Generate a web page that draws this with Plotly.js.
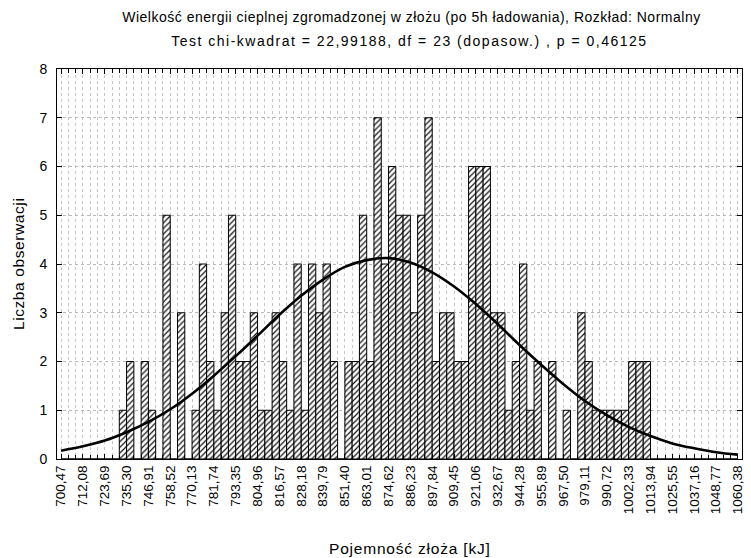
<!DOCTYPE html>
<html><head><meta charset="utf-8">
<script src="https://cdn.plot.ly/plotly-3.0.1.min.js"></script>
<style>
html,body{margin:0;padding:0;background:#fff;}
.annotation[data-index="0"] text{letter-spacing:0.5px;}
.annotation[data-index="1"] text{letter-spacing:1.5px;}
.annotation[data-index="2"] text{letter-spacing:0.8px;}
.annotation[data-index="3"] text{letter-spacing:0.6px;}
</style>
</head><body>
<div id="chart" style="width:751px;height:558px;"></div>
<script>
// Histogram bins: first bin starts at 700,47, width 3,87 (93 bins)
const binStart = 700.47;
const binWidth = 3.87;
const counts = [
  0,0,0,0,0,0,0,0,1,2,
  0,2,1,0,5,0,3,0,1,4,
  2,1,3,5,2,2,3,1,1,3,
  2,1,4,1,4,3,4,2,0,2,
  2,5,2,7,4,6,5,5,3,5,
  7,2,3,3,2,2,6,6,6,3,
  3,1,2,4,1,2,0,2,0,1,
  0,3,2,1,1,1,1,1,2,2,
  2,0,0,0,0,0,0,0,0,0,
  0,0,0
];
// Tick labels (bin-class boundaries)
const tickLabels = ["700,47","712,08","723,69","735,30","746,91","758,52","770,13","781,74",
  "793,35","804,96","816,57","828,18","839,79","851,40","863,01","874,62","886,23","897,84",
  "909,45","921,06","932,67","944,28","955,89","967,50","979,11","990,72","1002,33","1013,94",
  "1025,55","1037,16","1048,77","1060,38"];
// Fitted normal curve read at each tick position
const curveY = [0.17,0.26,0.38,0.55,0.76,1.02,1.34,1.71,2.11,2.53,2.96,3.35,3.68,3.94,4.08,4.12,
  4.03,3.83,3.54,3.18,2.77,2.34,1.93,1.54,1.19,0.90,0.66,0.47,0.32,0.22,0.14,0.09];

const tickVals = tickLabels.map(s => parseFloat(s.replace(',', '.')));
const barX = counts.map((c, i) => binStart + binWidth * (i + 0.5));

const FONT = 'Liberation Sans, Arial, sans-serif';

const bars = {
  type: 'bar', x: barX, y: counts, width: binWidth,
  marker: {
    color: 'white',
    line: {color: 'black', width: 1},
    pattern: {shape: '/', fgcolor: '#111', bgcolor: 'white', size: 4, solidity: 0.3}
  },
  hoverinfo: 'x+y', showlegend: false
};
const curve = {
  type: 'scatter', mode: 'lines', x: tickVals, y: curveY,
  line: {color: 'black', width: 2.6, shape: 'spline'},
  showlegend: false
};

const layout = {
  width: 751, height: 558,
  margin: {l: 57, r: 9, t: 69, b: 99},
  paper_bgcolor: 'white', plot_bgcolor: 'white',
  font: {family: FONT, size: 13, color: 'black'},
  bargap: 0,
  xaxis: {
    range: [698.3, 1062.6],
    tickmode: 'array', tickvals: tickVals, ticktext: tickLabels,
    tickangle: -90, tickfont: {family: FONT, size: 13.5},
    ticks: 'inside', ticklen: 5, tickcolor: 'black',
    showgrid: true, gridcolor: '#c4c4c4', griddash: 'dot', gridwidth: 1,
    minor: {tick0: binStart, dtick: binWidth, showgrid: true, gridcolor: '#c4c4c4', griddash: 'dot',
            ticks: 'inside', ticklen: 4, tickcolor: 'black'},
    showline: true, linecolor: 'black', linewidth: 1, mirror: 'ticks',
    zeroline: false
  },
  yaxis: {
    range: [0, 8], dtick: 1, tick0: 0,
    tickfont: {family: FONT, size: 14},
    ticks: 'inside', ticklen: 5, tickcolor: 'black', ticklabelstandoff: 6,
    showgrid: true, gridcolor: '#b8b8b8', griddash: 'dot', gridwidth: 1,
    showline: true, linecolor: 'black', linewidth: 1, mirror: 'ticks',
    zeroline: false
  },
  annotations: [
    {text: 'Wielkość energii cieplnej zgromadzonej w złożu (po 5h ładowania), Rozkład: Normalny',
     xref: 'paper', yref: 'paper', x: (411 - 57) / 685, y: 1 + (69 - 17) / 390, xanchor: 'center', yanchor: 'middle',
     showarrow: false, font: {family: FONT, size: 14}},
    {text: 'Test chi-kwadrat = 22,99188, df = 23 (dopasow.) , p = 0,46125',
     xref: 'paper', yref: 'paper', x: (410 - 57) / 685, y: 1 + (69 - 41) / 390, xanchor: 'center', yanchor: 'middle',
     showarrow: false, font: {family: FONT, size: 14}},
    {text: 'Pojemność złoża [kJ]',
     xref: 'paper', yref: 'paper', x: (410 - 57) / 685, y: (459 - 548) / 390, xanchor: 'center', yanchor: 'middle',
     showarrow: false, font: {family: FONT, size: 15.5}},
    {text: 'Liczba obserwacji',
     xref: 'paper', yref: 'paper', x: (18 - 57) / 685, y: 0.5, xanchor: 'center', yanchor: 'middle',
     textangle: -90, showarrow: false, font: {family: FONT, size: 15.5}}
  ]
};

Plotly.newPlot('chart', [bars, curve], layout, {displayModeBar: false, staticPlot: true});
</script>
</body></html>
